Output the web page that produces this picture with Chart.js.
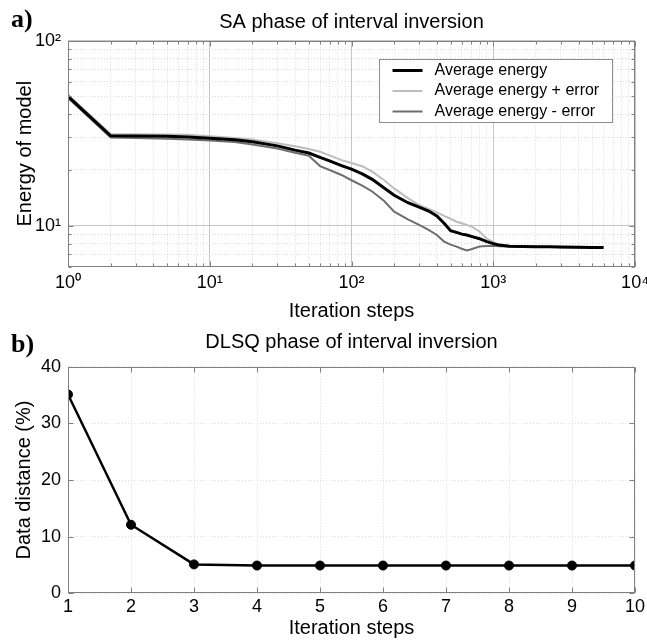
<!DOCTYPE html>
<html>
<head>
<meta charset="utf-8">
<title>SA / DLSQ phase of interval inversion</title>
<script src="https://cdn.jsdelivr.net/npm/chart.js@4.4.1/dist/chart.umd.min.js"></script>
<style>
  body { margin: 0; background: #fff; }
  #wrap { position: relative; width: 647px; height: 640px; overflow: hidden; }
  canvas { position: absolute; left: 0; }
  .tag { position: absolute; font: bold 26px "Liberation Serif", "Times New Roman", serif; line-height: 26px; color: #000; }
</style>
</head>
<body>
<div id="wrap">
  <canvas id="chart_sa" width="647" height="325" style="top:0"></canvas>
  <canvas id="chart_dlsq" width="647" height="315" style="top:325px"></canvas>
  <div class="tag" style="left:11px;top:6px">a)</div>
  <div class="tag" style="left:11px;top:331px">b)</div>
</div>
<script>
// Painel a) - fase SA (eixos log-log)
const iterSteps = [1, 2, 3, 5, 7, 10, 15, 20, 30, 40, 50, 60, 70, 85, 100, 120, 140, 170, 200, 250, 300, 350, 400, 450, 500, 550, 600, 650, 700, 800, 900, 1000, 1100, 1300, 1600, 2000, 2500, 3000, 4000, 5000, 6000]
const avgEnergy = [50, 30.6, 30.5, 30.4, 30.2, 29.7, 29.1, 28.4, 27.0, 25.6, 24.7, 23.4, 22.4, 21.1, 20.2, 19.0, 17.8, 16.0, 14.6, 13.3, 12.6, 12.0, 11.3, 10.3, 9.4, 9.2, 9.0, 8.9, 8.75, 8.5, 8.2, 8.0, 7.85, 7.75, 7.72, 7.7, 7.68, 7.66, 7.65, 7.63, 7.62]
const avgEnergyPlus = [51, 31.3, 31.2, 31.1, 31.0, 30.4, 29.8, 29.2, 27.9, 26.9, 26.0, 25.1, 24.0, 22.6, 21.8, 20.9, 19.6, 17.6, 15.9, 14.1, 12.9, 12.3, 11.8, 11.3, 10.9, 10.5, 10.3, 10.1, 9.9, 9.3, 8.5, 8.15, 7.9, 7.8, 7.75, 7.72, 7.7, 7.68, 7.66, 7.65, 7.64]
const avgEnergyMinus = [49, 30.0, 29.8, 29.5, 29.2, 28.9, 28.3, 27.5, 26.1, 24.8, 23.9, 21.0, 20.0, 18.8, 17.6, 16.4, 15.3, 13.6, 11.9, 10.8, 10.1, 9.5, 8.9, 8.2, 7.9, 7.7, 7.5, 7.35, 7.45, 7.72, 7.76, 7.78, 7.75, 7.72, 7.7, 7.68, 7.66, 7.65, 7.63, 7.62, 7.62]
const seriesLabels = ['Average energy', 'Average energy + error', 'Average energy - error']

const xTicksSA = [1, 2, 3, 4, 5, 6, 7, 8, 9, 10, 20, 30, 40, 50, 60, 70, 80, 90, 100, 200, 300, 400, 500, 600, 700, 800, 900, 1000, 2000, 3000, 4000, 5000, 6000, 7000, 8000, 9000, 10000]
const xLabelsSA = {1: '10\u2070', 10: '10\u00b9', 100: '10\u00b2', 1000: '10\u00b3', 10000: '10\u2074'}
const yTicksSA = [6, 7, 8, 9, 10, 20, 30, 40, 50, 60, 70, 80, 90, 100]
const yLabelsSA = {10: '10\u00b9', 100: '10\u00b2'}

// Painel b) - fase DLSQ
const dlsqSteps = [1, 2, 3, 4, 5, 6, 7, 8, 9, 10]
const dataDistance = [35.1, 12.1, 5.1, 4.9, 4.9, 4.9, 4.9, 4.9, 4.9, 4.9]

Chart.defaults.font.family = '"Liberation Sans", Arial, Helvetica, sans-serif'
Chart.defaults.font.size = 18
Chart.defaults.color = '#000'

const toPoints = (xs, ys) => xs.map((x, i) => ({x: x, y: ys[i]}))

// Moldura com marcas de escala para dentro (estilo MATLAB).
const frameTicks = {
  id: 'frameTicks',
  afterDatasetsDraw(chart) {
    const {ctx, chartArea: a, scales} = chart
    const L = Math.round(a.left) + 0.5
    const R = Math.round(a.right) - 0.5
    const T = Math.round(a.top) + 0.5
    const B = Math.round(a.bottom) - 0.5
    ctx.save()
    ctx.strokeStyle = '#808080'
    ctx.lineWidth = 1
    ctx.beginPath()
    scales.x.ticks.forEach(t => {
      const px = Math.round(scales.x.getPixelForValue(t.value)) + 0.5
      const len = t.major === false ? 3 : 5
      ctx.moveTo(px, B); ctx.lineTo(px, B - len)
      ctx.moveTo(px, T); ctx.lineTo(px, T + len)
    })
    scales.y.ticks.forEach(t => {
      const py = Math.round(scales.y.getPixelForValue(t.value)) + 0.5
      const len = t.major === false ? 3 : 5
      ctx.moveTo(L, py); ctx.lineTo(L + len, py)
      ctx.moveTo(R, py); ctx.lineTo(R - len, py)
    })
    ctx.stroke()
    ctx.strokeRect(L, T, R - L, B - T)
    ctx.restore()
  }
}

// Legenda dentro da área do gráfico.
const legendBox = {
  id: 'legendBox',
  afterDraw(chart) {
    const {ctx, chartArea} = chart
    ctx.save()
    ctx.font = '16px "Liberation Sans", Arial, sans-serif'
    const textW = Math.max(...chart.data.datasets.map(d => ctx.measureText(d.label).width))
    const w = Math.round(13 + 30 + 12 + textW + 13)
    const h = 63
    const x0 = Math.round(chartArea.right - 23 - w) + 0.5
    const y0 = Math.round(chartArea.top + 18.6) + 0.5
    ctx.fillStyle = '#fff'
    ctx.fillRect(x0, y0, w, h)
    ctx.strokeStyle = '#8c8c8c'
    ctx.lineWidth = 1
    ctx.strokeRect(x0, y0, w, h)
    chart.data.datasets.forEach((d, i) => {
      const yy = y0 + 11 + i * 20.5
      ctx.strokeStyle = d.borderColor
      ctx.lineWidth = d.borderWidth
      ctx.beginPath()
      ctx.moveTo(x0 + 13, yy)
      ctx.lineTo(x0 + 43, yy)
      ctx.stroke()
      ctx.fillStyle = '#000'
      ctx.textBaseline = 'middle'
      ctx.fillText(d.label, x0 + 55, yy)
    })
    ctx.restore()
  }
}

const gridColor = (c) => (c.tick && c.tick.major) ? '#c6c6c6' : '#dadada'
const gridDash = (c) => (c.tick && c.tick.major) ? [] : [1, 2]

// Fixa a largura/altura dos eixos para a área do gráfico ficar no lugar.
const fixX = (h) => (scale) => { scale.height = h; scale.paddingLeft = 0; scale.paddingRight = 12 }
const fixY = (scale) => { scale.width = 68 }

// Gráfico a)
new Chart(document.getElementById('chart_sa'), {
  type: 'line',
  data: {
    datasets: [
      {label: seriesLabels[0], data: toPoints(iterSteps, avgEnergy), borderColor: '#000000', borderWidth: 3, order: 0},
      {label: seriesLabels[1], data: toPoints(iterSteps, avgEnergyPlus), borderColor: '#bdbdbd', borderWidth: 2, order: 1},
      {label: seriesLabels[2], data: toPoints(iterSteps, avgEnergyMinus), borderColor: '#6e6e6e', borderWidth: 2, order: 2}
    ]
  },
  options: {
    responsive: false,
    animation: false,
    layout: {padding: {left: 0, right: 12, top: 0, bottom: 0}},
    elements: {point: {radius: 0}, line: {tension: 0}},
    plugins: {
      legend: {display: false},
      tooltip: {enabled: false},
      title: {
        display: true, text: 'SA phase of interval inversion', fullSize: false,
        font: {size: 20, weight: 'normal'}, padding: {top: 10, bottom: 6.7}
      }
    },
    scales: {
      x: {
        type: 'logarithmic', min: 1, max: 10000,
        afterBuildTicks: (scale) => { scale.ticks = xTicksSA.map(v => ({value: v, major: v in xLabelsSA})) },
        afterFit: fixX(58.3),
        ticks: {autoSkip: false, maxRotation: 0, padding: 6, callback: (v) => xLabelsSA[v] || ''},
        grid: {color: gridColor, drawTicks: false},
        border: {display: false, dash: gridDash},
        title: {display: true, text: 'Iteration steps', font: {size: 20}, padding: {top: 0, bottom: 1.5}}
      },
      y: {
        type: 'logarithmic', min: 6, max: 100,
        afterBuildTicks: (scale) => { scale.ticks = yTicksSA.map(v => ({value: v, major: v in yLabelsSA})) },
        afterFit: fixY,
        ticks: {autoSkip: false, padding: 7, callback: (v) => yLabelsSA[v] || ''},
        grid: {color: gridColor, drawTicks: false},
        border: {display: false, dash: gridDash},
        title: {display: true, text: 'Energy of model', font: {size: 20}, padding: {top: 13, bottom: 0}}
      }
    }
  },
  plugins: [frameTicks, legendBox]
})

// Gráfico b)
new Chart(document.getElementById('chart_dlsq'), {
  type: 'line',
  data: {
    datasets: [{
      label: 'Data distance',
      data: toPoints(dlsqSteps, dataDistance),
      borderColor: '#000', borderWidth: 2.5, tension: 0,
      pointRadius: 4.5, pointBackgroundColor: '#000', pointBorderColor: '#000', pointBorderWidth: 1
    }]
  },
  options: {
    responsive: false,
    animation: false,
    layout: {padding: {left: 0, right: 12, top: 0, bottom: 0}},
    plugins: {
      legend: {display: false},
      tooltip: {enabled: false},
      title: {
        display: true, text: 'DLSQ phase of interval inversion', fullSize: false,
        font: {size: 20, weight: 'normal'}, padding: {top: 5, bottom: 12.7}
      }
    },
    scales: {
      x: {
        type: 'linear', min: 1, max: 10,
        afterFit: fixX(46.7),
        ticks: {stepSize: 1, autoSkip: false, maxRotation: 0, padding: 3},
        grid: {color: '#dcdcdc', drawTicks: false},
        border: {display: false, dash: [1, 2]},
        title: {display: true, text: 'Iteration steps', font: {size: 20}, padding: {top: 0, bottom: 0}}
      },
      y: {
        type: 'linear', min: 0, max: 40,
        afterFit: fixY,
        ticks: {stepSize: 10, padding: 7},
        grid: {color: '#dcdcdc', drawTicks: false},
        border: {display: false, dash: [1, 2]},
        title: {display: true, text: 'Data distance (%)', font: {size: 20}, padding: {top: 12, bottom: 0}}
      }
    }
  },
  plugins: [frameTicks]
})
</script>
</body>
</html>
